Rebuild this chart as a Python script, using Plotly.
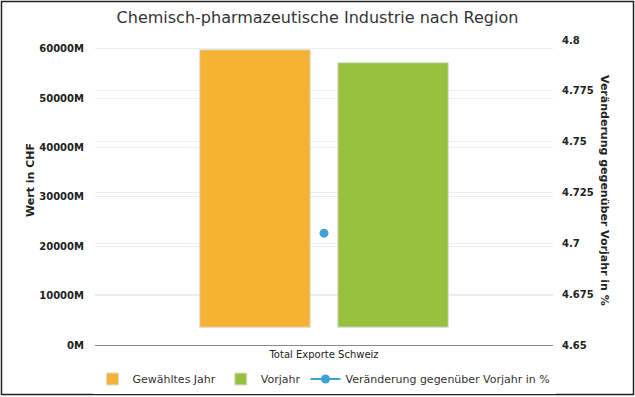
import plotly.graph_objects as go

categories = ["Total Exporte Schweiz"]
gewaehltes_jahr = [59800]   # Mio CHF
vorjahr = [57200]           # Mio CHF
bar_base = [3600]           # bars start slightly above axis in the reference
veraenderung = [4.705]      # %

left_tickvals = [0, 10000, 20000, 30000, 40000, 50000, 60000]
left_ticktext = ["0M", "10000M", "20000M", "30000M", "40000M", "50000M", "60000M"]
right_tickvals = [4.65, 4.675, 4.7, 4.725, 4.75, 4.775, 4.8]
right_ticktext = ["4.65", "4.675", "4.7", "4.725", "4.75", "4.775", "4.8"]

FONT = "DejaVu Sans"
W, H = 635, 397
L, R, T, B = 95, 82, 40, 52
pw, ph = W - L - R, H - T - B

def px(x):
    return (x - L) / pw

def py(y):
    return (H - B - y) / ph

tickfont = dict(size=10, color="#222222", family=FONT, weight="bold")

fig = go.Figure()
fig.add_trace(go.Bar(
    x=categories, y=[v - b for v, b in zip(gewaehltes_jahr, bar_base)], base=bar_base,
    name="Gewähltes Jahr", marker=dict(color="#F5B234", line=dict(color="#dcdcdc", width=1)),
))
fig.add_trace(go.Bar(
    x=categories, y=[v - b for v, b in zip(vorjahr, bar_base)], base=bar_base,
    name="Vorjahr", marker=dict(color="#97C03E", line=dict(color="#dcdcdc", width=1)),
))
fig.add_trace(go.Scatter(
    x=categories, y=veraenderung, yaxis="y2", mode="lines+markers",
    name="Veränderung gegenüber Vorjahr in %",
    marker=dict(color="#3EA2D3", size=9), line=dict(color="#3EA2D3", width=2),
))

fig.update_layout(
    width=W, height=H,
    margin=dict(l=L, r=R, t=T, b=B, autoexpand=False),
    paper_bgcolor="white", plot_bgcolor="white",
    font=dict(family=FONT, color="#333333"),
    barmode="group", bargap=0.397, bargroupgap=0.2,
    title=dict(text="Chemisch-pharmazeutische Industrie nach Region",
               x=0.5, xanchor="center", y=1 - 17 / H, yanchor="middle",
               font=dict(size=16, color="#333333", family=FONT)),
    xaxis=dict(showgrid=False, showline=True, linecolor="#8a8a8a", linewidth=1,
               ticks="", tickfont=dict(size=10, color="#222222", family=FONT),
               fixedrange=True),
    yaxis=dict(range=[0, 61800], tickvals=left_tickvals, ticktext=left_ticktext,
               showgrid=True, gridcolor="#ececec", gridwidth=1, zeroline=False,
               tickfont=tickfont, ticklabelstandoff=10),
    yaxis2=dict(range=[4.65, 4.8], tickvals=right_tickvals, ticktext=right_ticktext,
                overlaying="y", side="right", showgrid=True, gridcolor="#ececec",
                gridwidth=1, zeroline=False, tickfont=tickfont, ticklabelstandoff=8),
    legend=dict(orientation="h", x=0.5, xanchor="center", y=py(379), yanchor="middle",
                font=dict(size=11, color="#333333"), itemwidth=30, tracegroupgap=0),
    showlegend=True,
    annotations=[
        dict(text="<b>Wert in CHF</b>", xref="paper", yref="paper", x=px(30), y=py(180),
             xanchor="center", yanchor="middle",
             textangle=-90, showarrow=False, font=dict(size=11, color="#222222")),
        dict(text="<b>Veränderung gegenüber Vorjahr in %</b>", xref="paper", yref="paper",
             x=px(605), y=py(190), xanchor="center", yanchor="middle", textangle=90,
             showarrow=False, font=dict(size=11, color="#222222")),
    ],
    shapes=[
        dict(type="rect", xref="paper", yref="paper", x0=px(1.5), x1=px(633.5),
             y0=py(394.5), y1=py(1.5), line=dict(color="#222222", width=1.5)),
    ],
)

fig.write_html("out.html", config={"displayModeBar": False},
               post_script="document.body.style.margin='0';")
